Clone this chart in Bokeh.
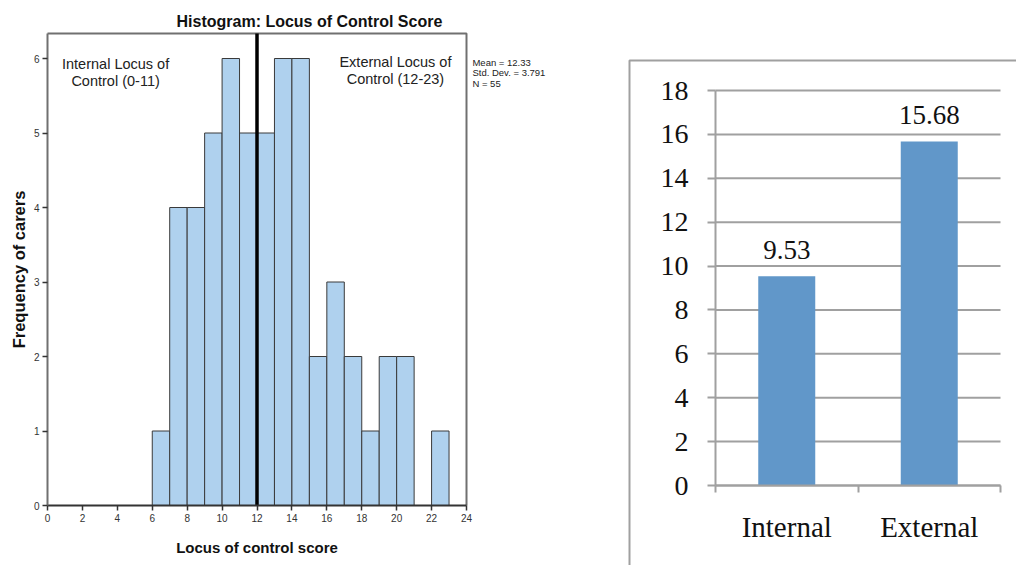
import math
from bokeh.plotting import figure
from bokeh.layouts import row
from bokeh.models import Range1d, FixedTicker, Label
from bokeh.embed import file_html
from bokeh.resources import INLINE
from bokeh.core.properties import value

# ---------------- Histogram data ----------------
bin_left = [6, 7, 8, 9, 10, 11, 12, 13, 14, 15, 16, 17, 18, 19, 20, 21, 22]
bin_right = [7, 8, 9, 10, 11, 12, 13, 14, 15, 16, 17, 18, 19, 20, 21, 22, 23]
counts = [1, 4, 4, 5, 6, 5, 5, 6, 6, 2, 3, 2, 1, 2, 2, 0, 1]
cutoff = 12
hist_x_ticks = [0, 2, 4, 6, 8, 10, 12, 14, 16, 18, 20, 22, 24]
hist_y_ticks = [0, 1, 2, 3, 4, 5, 6]
stats_lines = ["Mean = 12.33", "Std. Dev. = 3.791", "N = 55"]
internal_note = ["Internal Locus of", "Control (0-11)"]
external_note = ["External Locus of", "Control (12-23)"]
hist_title = "Histogram: Locus of Control Score"
hist_xlabel = "Locus of control score"
hist_ylabel = "Frequency of carers"

# ---------------- Bar chart data ----------------
categories = ["Internal", "External"]
means = [9.53, 15.68]
bar_y_ticks = [0, 2, 4, 6, 8, 10, 12, 14, 16, 18]

SANS = "Liberation Sans"
SERIF = "Liberation Serif"
GRAY = "#a0a0a0"

H = 565          # figure height (both)
TOP = 31         # frame top (both, frames are aligned in a row)
BOTTOM = H       # frame bottom (frames reach the bottom; axes are placed inside)

# ================= Histogram =================
W1 = 600
X0_PX, X24_PX = 47, 466          # pixel positions of x=0 and x=24
Y0_PX, Y6_PX = 505, 58           # pixel positions of y=0 and y=6
sx1 = (X24_PX - X0_PX) / 24.0
sy1 = (Y0_PX - Y6_PX) / 6.0
x_start1 = -X0_PX / sx1
x_end1 = (W1 - X0_PX) / sx1
y_start1 = -(BOTTOM - Y0_PX) / sy1
y_end1 = (Y0_PX - TOP) / sy1
box_top1 = (Y0_PX - 33) / sy1
x_max = hist_x_ticks[-1]

p1 = figure(width=W1, height=H, x_range=Range1d(x_start1, x_end1), y_range=Range1d(y_start1, y_end1),
            output_backend="svg", toolbar_location=None,
            min_border_left=0, min_border_right=0, min_border_top=TOP,
            min_border_bottom=H - BOTTOM)
p1.title.text = hist_title
p1.title.align = "left"
p1.title.offset = 176
p1.title.text_font = SANS
p1.title.text_font_style = "bold"
p1.title.text_font_size = "16px"
p1.title.text_color = "#111111"
p1.title.standoff = 4

p1.xgrid.visible = False
p1.ygrid.visible = False
p1.outline_line_color = None
p1.background_fill_color = "white"
p1.border_fill_color = "white"

p1.quad(left=bin_left, right=bin_right, bottom=0, top=counts,
        fill_color="#AFD1EE", line_color="#3a3a3a", line_width=1)

# frame box (top and right edges)
p1.line(x=[0, x_max, x_max], y=[box_top1, box_top1, 0], line_color="#707070", line_width=2)

p1.segment(x0=[cutoff], y0=[0], x1=[cutoff], y1=[box_top1], line_color="black", line_width=3.5)

for ax, ticks in ((p1.xaxis[0], hist_x_ticks), (p1.yaxis[0], hist_y_ticks)):
    ax.fixed_location = 0
    ax.ticker = FixedTicker(ticks=ticks, minor_ticks=[])
    ax.major_tick_out = 5
    ax.major_tick_in = 0
    ax.major_tick_line_color = "#333333"
    ax.major_tick_line_width = 1.5
    ax.major_label_text_font = SANS
    ax.major_label_text_font_size = "10px"
    ax.major_label_text_color = "#333333"
    ax.major_label_standoff = 3

p1.xaxis.axis_line_color = "#333333"
p1.xaxis.axis_line_width = 2
p1.xaxis.bounds = (0, x_max)
p1.yaxis.axis_line_color = "#707070"
p1.yaxis.axis_line_width = 2
p1.yaxis.bounds = (0, box_top1)

p1.add_layout(Label(x=x_max / 2, y=-(547 - Y0_PX) / sy1, text=hist_xlabel,
                    text_align="center", text_baseline="middle", text_font=SANS,
                    text_font_style="bold", text_font_size="15px", text_color="#111111"))
p1.add_layout(Label(x=(18 - X0_PX) / sx1, y=(Y0_PX - 269) / sy1, text=hist_ylabel, angle=math.pi / 2,
                    text_align="center", text_baseline="middle", text_font=SANS,
                    text_font_style="bold", text_font_size="16.5px", text_color="#111111"))

for txt, y in zip(internal_note, [5.92, 5.70]):
    p1.add_layout(Label(x=3.9, y=y, text=txt, text_align="center", text_baseline="middle",
                        text_font=SANS, text_font_size="14.5px", text_color="#222222"))
for txt, y in zip(external_note, [5.95, 5.73]):
    p1.add_layout(Label(x=19.93, y=y, text=txt, text_align="center", text_baseline="middle",
                        text_font=SANS, text_font_size="14.5px", text_color="#222222"))
for txt, y in zip(stats_lines, [5.95, 5.81, 5.67]):
    p1.add_layout(Label(x=24.34, y=y, text=txt, text_align="left", text_baseline="middle",
                        text_font=SANS, text_font_size="9.5px", text_color="#222222"))

# ================= Bar chart =================
W2 = 416
ORIGIN2 = W1                      # canvas left of p2 in page pixels
XA_PX, XB_PX = 715, 1000          # pixel positions of x=0 and x=2
YA_PX, YB_PX = 485, 90            # pixel positions of y=0 and y=18
ncat = len(categories)
sx2 = (XB_PX - XA_PX) / ncat
sy2 = (YA_PX - YB_PX) / 18.0
x_start2 = (ORIGIN2 - XA_PX) / sx2
x_end2 = (ORIGIN2 + W2 - XA_PX) / sx2
y_start2 = -(BOTTOM - YA_PX) / sy2
y_end2 = (YA_PX - TOP) / sy2
box_left2 = (629 - XA_PX) / sx2
box_top2 = (YA_PX - 60) / sy2

p2 = figure(width=W2, height=H, x_range=Range1d(x_start2, x_end2), y_range=Range1d(y_start2, y_end2),
            output_backend="svg", toolbar_location=None,
            min_border_left=0, min_border_right=0, min_border_top=TOP, min_border_bottom=H - BOTTOM)
p2.outline_line_color = None
p2.xgrid.visible = False
p2.ygrid.visible = False
p2.background_fill_color = "white"
p2.border_fill_color = "white"

# outer chart-area border
p2.line(x=[box_left2, box_left2, x_end2 + 1], y=[y_start2 - 1, box_top2, box_top2],
        line_color=GRAY, line_width=2)

# horizontal gridlines
p2.segment(x0=[0] * len(bar_y_ticks), y0=bar_y_ticks, x1=[ncat] * len(bar_y_ticks), y1=bar_y_ticks,
           line_color=GRAY, line_width=2)

bar_x = [i + 0.5 for i in range(ncat)]
p2.vbar(x=bar_x, width=0.4, top=means, fill_color="#6197C9", line_color=None)
p2.text(x=bar_x, y=means, text=[f"{m:.2f}" for m in means], y_offset=-26,
        text_align="center", text_baseline="alphabetic",
        text_font=value(SERIF), text_font_size="27px", text_color="#111111")

ya = p2.yaxis[0]
ya.fixed_location = 0
ya.bounds = (0, 18)
ya.ticker = FixedTicker(ticks=bar_y_ticks, minor_ticks=[])
ya.axis_line_color = GRAY
ya.axis_line_width = 2
ya.major_tick_out = 8
ya.major_tick_in = 0
ya.major_tick_line_color = GRAY
ya.major_tick_line_width = 2
ya.major_label_standoff = 19
ya.major_label_text_font = SERIF
ya.major_label_text_font_size = "28px"
ya.major_label_text_color = "#111111"

xa = p2.xaxis[0]
xa.fixed_location = 0
xa.bounds = (0, ncat)
xa.ticker = FixedTicker(ticks=bar_x, minor_ticks=[float(i) for i in range(ncat + 1)])
xa.major_label_overrides = {x: c for x, c in zip(bar_x, categories)}
xa.axis_line_color = GRAY
xa.axis_line_width = 2
xa.major_tick_out = 0
xa.major_tick_in = 0
xa.minor_tick_out = 7
xa.minor_tick_in = 0
xa.minor_tick_line_color = GRAY
xa.minor_tick_line_width = 2
xa.major_label_standoff = 18
xa.major_label_text_font = SERIF
xa.major_label_text_font_size = "29px"
xa.major_label_text_color = "#111111"

layout = row(p1, p2)
open("out.html", "w").write(file_html(layout, INLINE))
